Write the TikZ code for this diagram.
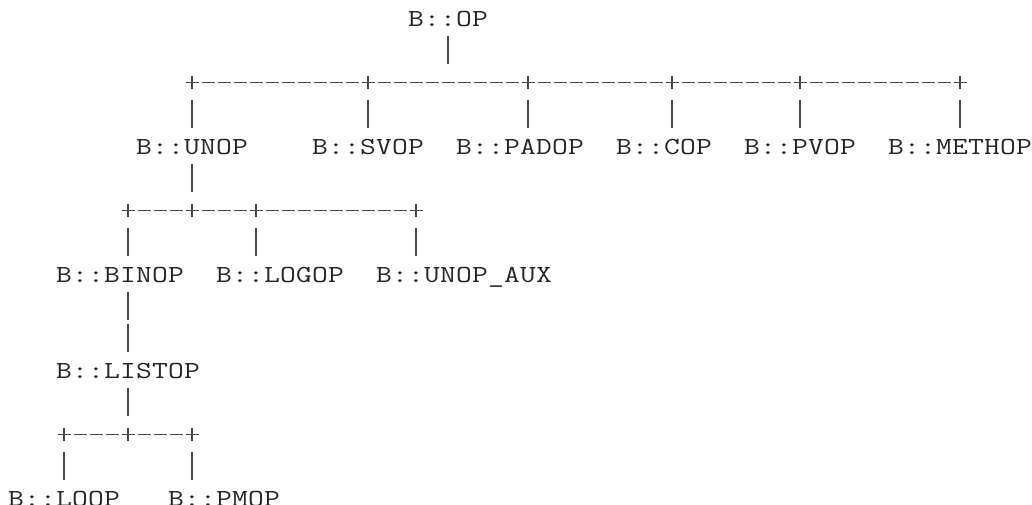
\documentclass[tikz,border=0pt]{standalone}
\usepackage{fontspec}
\usetikzlibrary{calc}
% typewriter labels: every character sits in its own 12pt cell
\makeatletter
\newcommand\monocells[1]{\monocells@#1\@nil}
\def\monocells@#1{\ifx#1\@nil\else\makebox[12pt]{\scalebox{1.25}[1]{#1}}\expandafter\monocells@\fi}
\makeatother
\begin{document}
\begin{tikzpicture}[x=0.75pt,y=-0.75pt,
  lbl/.style={anchor=base west,inner sep=0pt,outer sep=0pt,text=black!85,
    font=\fontsize{18.4pt}{22pt}\selectfont\ttfamily},
  conn/.style={draw=black!72,line width=1.05pt},
  bus/.style={conn,dash pattern=on 9.75pt off 2.25pt}]
\fill[white] (0,0) rectangle (1032,505);
\useasboundingbox (0,0) rectangle (1032,505);
\clip (0,0) rectangle (1032,505);

% class names
\node[lbl] (op)      at (408,27)  {\monocells{B::OP}};
\node[lbl] (unop)    at (136,155) {\monocells{B::UNOP}};
\node[lbl] (svop)    at (312,155) {\monocells{B::SVOP}};
\node[lbl] (padop)   at (456,155) {\monocells{B::PADOP}};
\node[lbl] (cop)     at (616,155) {\monocells{B::COP}};
\node[lbl] (pvop)    at (744,155) {\monocells{B::PVOP}};
\node[lbl] (methop)  at (888,155) {\monocells{B::METHOP}};
\node[lbl] (binop)   at (56,283)  {\monocells{B::BINOP}};
\node[lbl] (logop)   at (216,283) {\monocells{B::LOGOP}};
\node[lbl] (unopaux) at (376,283) {\monocells{B::UNOP\_AUX}};
\node[lbl] (listop)  at (56,379)  {\monocells{B::LISTOP}};
\node[lbl] (loop)    at (8,507)   {\monocells{B::LOOP}};
\node[lbl] (pmop)    at (168,507) {\monocells{B::PMOP}};

% junctions ('+') of the three branch rows
\coordinate (a1) at (192,82.3);
\coordinate (a2) at (368,82.3);
\coordinate (a3) at (528,82.3);
\coordinate (a4) at (672,82.3);
\coordinate (a5) at (800,82.3);
\coordinate (a6) at (960,82.3);
\coordinate (b1) at (128,210.3);
\coordinate (b2) at (192,210.3);
\coordinate (b3) at (256,210.3);
\coordinate (b4) at (416,210.3);
\coordinate (c1) at (64,434.3);
\coordinate (c2) at (128,434.3);
\coordinate (c3) at (192,434.3);

% B::OP and its subclasses
\draw[conn] (op.base) ++(0,9) -- ++(0,28.5);
\draw[bus] ($(a1)+(-6.5,0)$) -- ($(a6)+(6.5,0)$);
\foreach \j/\n in {a1/unop,a2/svop,a3/padop,a4/cop,a5/pvop,a6/methop}{
  \draw[conn] (\j) ++(0,-6.5) -- ++(0,13);
  \draw[conn] (\j |- \n.base) ++(0,-55) -- ++(0,28.5);
}

% B::UNOP and its subclasses
\draw[conn] (unop.base) ++(0,9) -- ++(0,28.5);
\draw[bus] ($(b1)+(-6.5,0)$) -- ($(b4)+(6.5,0)$);
\draw[conn] (b2) ++(0,-6.5) -- ++(0,13);
\foreach \j/\n in {b1/binop,b3/logop,b4/unopaux}{
  \draw[conn] (\j) ++(0,-6.5) -- ++(0,13);
  \draw[conn] (\j |- \n.base) ++(0,-55) -- ++(0,28.5);
}

% B::BINOP -> B::LISTOP
\draw[conn] (b1 |- binop.base) ++(0,9) -- ++(0,28.5);
\draw[conn] (b1 |- listop.base) ++(0,-55) -- ++(0,28.5);

% B::LISTOP and its subclasses
\draw[conn] (listop.base) ++(0,9) -- ++(0,28.5);
\draw[bus] ($(c1)+(-6.5,0)$) -- ($(c3)+(6.5,0)$);
\draw[conn] (c2) ++(0,-6.5) -- ++(0,13);
\foreach \j/\n in {c1/loop,c3/pmop}{
  \draw[conn] (\j) ++(0,-6.5) -- ++(0,13);
  \draw[conn] (\j |- \n.base) ++(0,-55) -- ++(0,28.5);
}
\end{tikzpicture}
\end{document}
